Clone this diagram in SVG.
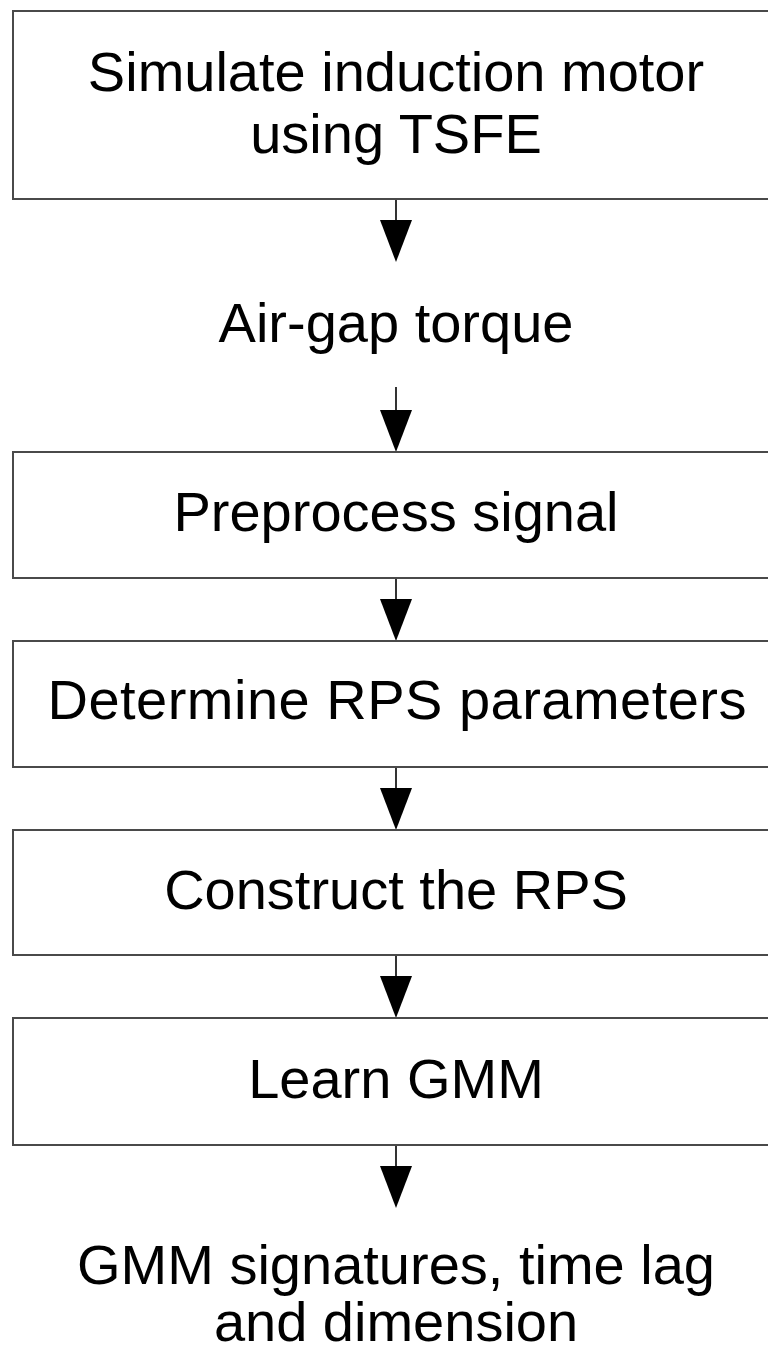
<svg xmlns="http://www.w3.org/2000/svg" width="768" height="1352" viewBox="0 0 768 1352">
  <style>
    .box { fill: #ffffff; stroke: #4a4a4a; stroke-width: 2; }
    .lbl { font-family: "Liberation Sans", Arial, Helvetica, sans-serif; font-size: 56px; fill: #000000; text-anchor: middle; }
    .conn line { stroke: #000000; stroke-width: 1.6; }
    .conn polygon { fill: #000000; }
  </style>
  <rect x="0" y="0" width="768" height="1352" fill="#ffffff"/>

  <g id="connectors" class="conn">
    <line x1="396" y1="199" x2="396" y2="222"/>
    <polygon points="380,220 412,220 396,262"/>
    <line x1="396" y1="387" x2="396" y2="412"/>
    <polygon points="380,410 412,410 396,452"/>
    <line x1="396" y1="578" x2="396" y2="601"/>
    <polygon points="380,599 412,599 396,641"/>
    <line x1="396" y1="767" x2="396" y2="790"/>
    <polygon points="380,788 412,788 396,830"/>
    <line x1="396" y1="955" x2="396" y2="978"/>
    <polygon points="380,976 412,976 396,1018"/>
    <line x1="396" y1="1145" x2="396" y2="1168"/>
    <polygon points="380,1166 412,1166 396,1208"/>
  </g>

  <g id="node-simulate">
    <rect class="box" x="13" y="11" width="768" height="188"/>
    <text class="lbl" x="396" y="91"><tspan x="396" y="91">Simulate induction motor</tspan><tspan x="396" y="153">using TSFE</tspan></text>
  </g>

  <g id="node-airgap">
    <text class="lbl" x="396" y="342">Air-gap torque</text>
  </g>

  <g id="node-preprocess">
    <rect class="box" x="13" y="452" width="768" height="126"/>
    <text class="lbl" x="396" y="531">Preprocess signal</text>
  </g>

  <g id="node-determine">
    <rect class="box" x="13" y="641" width="768" height="126"/>
    <text class="lbl" x="397" y="719" textLength="699" lengthAdjust="spacing">Determine RPS parameters</text>
  </g>

  <g id="node-construct">
    <rect class="box" x="13" y="830" width="768" height="125"/>
    <text class="lbl" x="396" y="909">Construct the RPS</text>
  </g>

  <g id="node-learn">
    <rect class="box" x="13" y="1018" width="768" height="127"/>
    <text class="lbl" x="396" y="1098">Learn GMM</text>
  </g>

  <g id="node-output">
    <text class="lbl" x="396" y="1284"><tspan x="396" y="1284">GMM signatures, time lag</tspan><tspan x="396" y="1341">and dimension</tspan></text>
  </g>
</svg>
